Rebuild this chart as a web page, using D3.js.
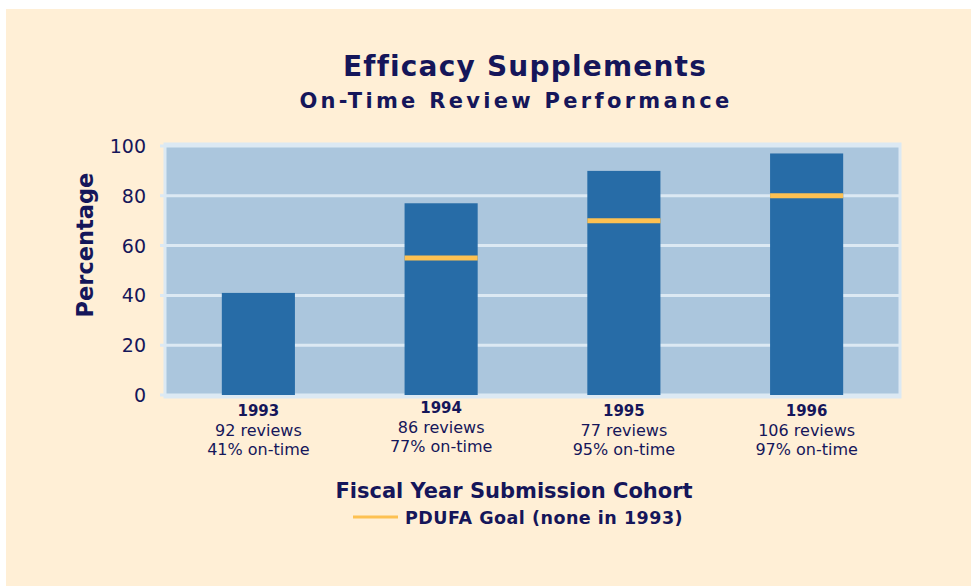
<!DOCTYPE html>
<html>
<head>
<meta charset="utf-8">
<script src="https://cdn.jsdelivr.net/npm/d3@7"></script>
<style>
  body { margin: 0; background: #fff; }
  svg { display: block; }
</style>
</head>
<body>
<script>
const years = ["1993", "1994", "1995", "1996"]
const reviews = ["92 reviews", "86 reviews", "77 reviews", "106 reviews"]
const onTime = ["41% on-time", "77% on-time", "95% on-time", "97% on-time"]
const barValues = [41, 77, 90, 97]
const goalValues = [null, 55, 70, 80]
const yTicks = [0, 20, 40, 60, 80, 100]

const width = 971
const height = 587
const navy = "#15165a"
const font = "'DejaVu Sans', sans-serif"

const plot = { left: 167, right: 898, top: 146, bottom: 395 }

const svg = d3.select("body").append("svg")
    .attr("width", width)
    .attr("height", height)

svg.append("rect")
    .attr("x", 6).attr("y", 9)
    .attr("width", width - 6).attr("height", 577)
    .attr("fill", "#ffefd6")

const x = d3.scaleBand()
    .domain(years)
    .range([plot.left, plot.right])
    .paddingInner(0.6)
    .paddingOuter(0.3)

const y = d3.scaleLinear()
    .domain([0, 100])
    .range([plot.bottom, plot.top])

// plot area with pale frame
svg.append("rect")
    .attr("x", plot.left - 2).attr("y", plot.top - 2)
    .attr("width", plot.right - plot.left + 4)
    .attr("height", plot.bottom - plot.top + 4)
    .attr("fill", "#abc6dd")
    .attr("stroke", "#dce9f3")
    .attr("stroke-width", 3)

svg.append("g")
    .selectAll("line")
    .data(yTicks)
    .enter()
    .append("line")
    .attr("x1", plot.left - 7)
    .attr("x2", plot.right + 2)
    .attr("y1", d => y(d))
    .attr("y2", d => y(d))
    .attr("stroke", "#dce9f3")
    .attr("stroke-width", 3)

svg.append("g")
    .selectAll("rect")
    .data(barValues)
    .enter()
    .append("rect")
    .attr("x", (d, i) => x(years[i]))
    .attr("y", d => y(d))
    .attr("width", x.bandwidth())
    .attr("height", d => y(0) - y(d))
    .attr("fill", "#276ca7")

svg.append("g")
    .selectAll("line")
    .data(goalValues.map((v, i) => ({ v, year: years[i] })).filter(d => d.v != null))
    .enter()
    .append("line")
    .attr("x1", d => x(d.year))
    .attr("x2", d => x(d.year) + x.bandwidth())
    .attr("y1", d => y(d.v))
    .attr("y2", d => y(d.v))
    .attr("stroke", "#fdc152")
    .attr("stroke-width", 5)

// y tick labels
svg.append("g")
    .style("font-family", font)
    .style("font-size", "19px")
    .attr("fill", navy)
    .selectAll("text")
    .data(yTicks)
    .enter()
    .append("text")
    .attr("x", 146)
    .attr("y", d => y(d) + 7)
    .attr("text-anchor", "end")
    .text(d => d)

svg.append("text")
    .attr("transform", "translate(93,245) rotate(-90)")
    .attr("text-anchor", "middle")
    .style("font-family", font)
    .style("font-size", "22.5px")
    .style("font-weight", "bold")
    .attr("fill", navy)
    .text("Percentage")

// category labels
const cat = svg.append("g")
    .style("font-family", font)
    .attr("fill", navy)
    .attr("text-anchor", "middle")
    .selectAll("g")
    .data(years)
    .enter()
    .append("g")
    .attr("transform", d => `translate(${x(d) + x.bandwidth() / 2},${d === "1994" ? -3 : 0})`)

cat.append("text")
    .attr("y", 416)
    .style("font-size", "15px")
    .style("font-weight", "bold")
    .text(d => d)

cat.append("text")
    .attr("y", 436)
    .style("font-size", "16px")
    .text((d, i) => reviews[i])

cat.append("text")
    .attr("y", 455)
    .style("font-size", "16px")
    .text((d, i) => onTime[i])

// titles
svg.append("text")
    .attr("x", 525).attr("y", 76)
    .attr("text-anchor", "middle")
    .style("font-family", font)
    .style("font-size", "28px")
    .style("font-weight", "bold")
    .style("letter-spacing", "1.2px")
    .attr("fill", navy)
    .text("Efficacy Supplements")

svg.append("text")
    .attr("x", 516).attr("y", 108)
    .attr("text-anchor", "middle")
    .style("font-family", font)
    .style("font-size", "21px")
    .style("font-weight", "bold")
    .style("letter-spacing", "3.3px")
    .attr("fill", navy)
    .text("On-Time Review Performance")

svg.append("text")
    .attr("x", 514).attr("y", 498)
    .attr("text-anchor", "middle")
    .style("font-family", font)
    .style("font-size", "21px")
    .style("font-weight", "bold")
    .attr("fill", navy)
    .text("Fiscal Year Submission Cohort")

// legend
svg.append("line")
    .attr("x1", 353).attr("x2", 398)
    .attr("y1", 517).attr("y2", 517)
    .attr("stroke", "#fdc152")
    .attr("stroke-width", 3)

svg.append("text")
    .attr("x", 405).attr("y", 524)
    .style("font-family", font)
    .style("font-size", "17.5px")
    .style("font-weight", "bold")
    .style("letter-spacing", "0.5px")
    .attr("fill", navy)
    .text("PDUFA Goal (none in 1993)")
</script>
</body>
</html>
